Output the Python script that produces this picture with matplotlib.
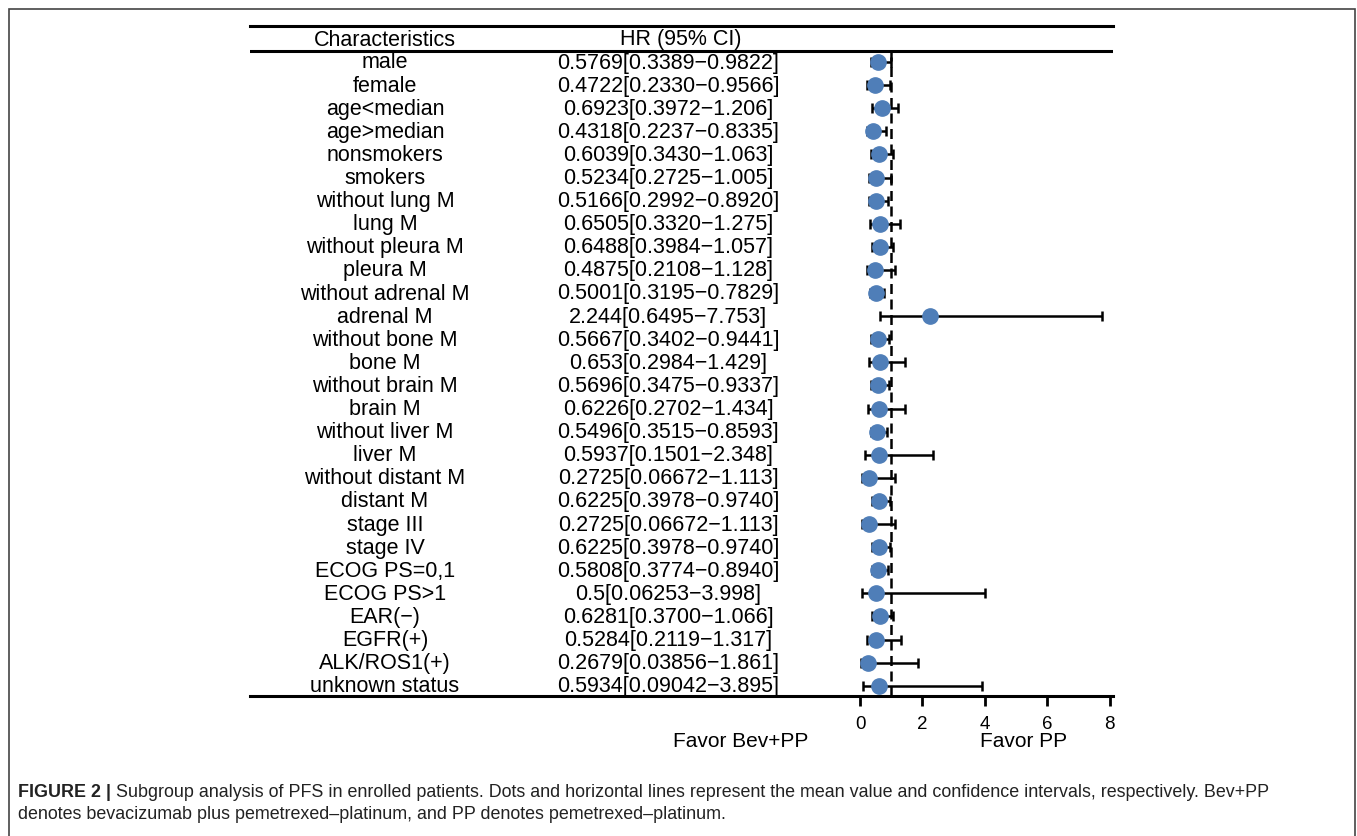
import numpy as np
import matplotlib
matplotlib.use("Agg")
import matplotlib.pyplot as plt
from matplotlib.patches import Rectangle
import matplotlib.transforms as mtransforms

plt.rcParams['font.family'] = ['Liberation Sans', 'DejaVu Sans']

labels = ["male", "female", "age<median", "age>median", "nonsmokers", "smokers",
          "without lung M", "lung M", "without pleura M", "pleura M",
          "without adrenal M", "adrenal M", "without bone M", "bone M",
          "without brain M", "brain M", "without liver M", "liver M",
          "without distant M", "distant M", "stage III", "stage IV",
          "ECOG PS=0,1", "ECOG PS>1", "EAR(\u2212)", "EGFR(+)", "ALK/ROS1(+)",
          "unknown status"]
hr_str = ["0.5769", "0.4722", "0.6923", "0.4318", "0.6039", "0.5234", "0.5166",
          "0.6505", "0.6488", "0.4875", "0.5001", "2.244", "0.5667", "0.653",
          "0.5696", "0.6226", "0.5496", "0.5937", "0.2725", "0.6225", "0.2725",
          "0.6225", "0.5808", "0.5", "0.6281", "0.5284", "0.2679", "0.5934"]
lo_str = ["0.3389", "0.2330", "0.3972", "0.2237", "0.3430", "0.2725", "0.2992",
          "0.3320", "0.3984", "0.2108", "0.3195", "0.6495", "0.3402", "0.2984",
          "0.3475", "0.2702", "0.3515", "0.1501", "0.06672", "0.3978", "0.06672",
          "0.3978", "0.3774", "0.06253", "0.3700", "0.2119", "0.03856", "0.09042"]
hi_str = ["0.9822", "0.9566", "1.206", "0.8335", "1.063", "1.005", "0.8920",
          "1.275", "1.057", "1.128", "0.7829", "7.753", "0.9441", "1.429",
          "0.9337", "1.434", "0.8593", "2.348", "1.113", "0.9740", "1.113",
          "0.9740", "0.8940", "3.998", "1.066", "1.317", "1.861", "3.895"]
xticks = [0, 2, 4, 6, 8]

hr = np.array([float(s) for s in hr_str])
lo = np.array([float(s) for s in lo_str])
hi = np.array([float(s) for s in hi_str])
rows = np.arange(len(labels))

W, H = 1357, 837
fig = plt.figure(figsize=(W / 100, H / 100), dpi=100)

# axes spans the whole table width; data x only used on the right part
ax = fig.add_axes([250 / W, 1 - 697 / H, 863 / W, 670 / H])
x0px, upx = 860, 31.2
ax.set_xlim((250 - x0px) / upx, (1113 - x0px) / upx)
y0px, rstep = 63, 23.1
ax.set_ylim((697 - y0px) / rstep, (27 - y0px) / rstep)

for s in ["left", "right"]:
    ax.spines[s].set_visible(False)
for s in ["top", "bottom"]:
    ax.spines[s].set_linewidth(2.2)
ax.set_yticks([])
ax.set_xticks(xticks)
ax.tick_params(axis='x', length=7, width=2, labelsize=13.5, pad=7)

head_y = (52 - y0px) / rstep
ax.axhline(head_y, color='black', lw=2.2)
ax.plot([1, 1], [head_y, ax.get_ylim()[0]], color='black', lw=1.8,
        linestyle=(0, (4, 2.2)), zorder=1)

ax.errorbar(hr, rows, xerr=[hr - lo, hi - hr], fmt='none', ecolor='black',
            elinewidth=1.8, capsize=3.5, capthick=1.8, zorder=2)
ax.plot(hr, rows, 'o', color='#4F7EB8', markersize=11, zorder=3)

tr = mtransforms.blended_transform_factory(ax.transAxes, ax.transData)
cx1 = (385 - 250) / 863
cx2 = (668 - 250) / 863
fs = 15.5
hdr_y = (40 - y0px) / rstep
ax.text(cx1, hdr_y, "Characteristics", transform=tr, ha='center', va='center', fontsize=fs)
ax.text((681 - 250) / 863, hdr_y, "HR (95% CI)", transform=tr, ha='center', va='center', fontsize=fs)
for i, lab in enumerate(labels):
    ax.text(cx1, i, lab, transform=tr, ha='center', va='center', fontsize=fs)
    ax.text(cx2, i, f"{hr_str[i]}[{lo_str[i]}\u2212{hi_str[i]}]", transform=tr,
            ha='center', va='center', fontsize=fs)

fig.text(741 / W, 1 - 742 / H, "Favor Bev+PP", ha='center', va='center', fontsize=15)
fig.text(1024 / W, 1 - 742 / H, "Favor PP", ha='center', va='center', fontsize=15)

# frame around the figure
fig.patches.append(Rectangle((9 / W, -0.05), (1355 - 9) / W, 1.05 - 10 / H,
                             transform=fig.transFigure, fill=False, edgecolor='#444444',
                             lw=1.2, clip_on=False))

cap_fs = 12.9
cap_col = '#222222'
fig.canvas.draw()
r = fig.canvas.get_renderer()
t0 = fig.text(18 / W, 1 - 793 / H, "FIGURE 2 |", ha='left', va='center', fontsize=cap_fs,
              fontweight='bold', color=cap_col)
bb = t0.get_window_extent(renderer=r)
fig.text((bb.x1 + 5) / W, 1 - 793 / H,
         "Subgroup analysis of PFS in enrolled patients. Dots and horizontal lines represent the mean value and confidence intervals, respectively. Bev+PP",
         ha='left', va='center', fontsize=cap_fs, color=cap_col)
fig.text(18 / W, 1 - 815 / H,
         "denotes bevacizumab plus pemetrexed\u2013platinum, and PP denotes pemetrexed\u2013platinum.",
         ha='left', va='center', fontsize=cap_fs, color=cap_col)

fig.savefig("out.png", dpi=100)
